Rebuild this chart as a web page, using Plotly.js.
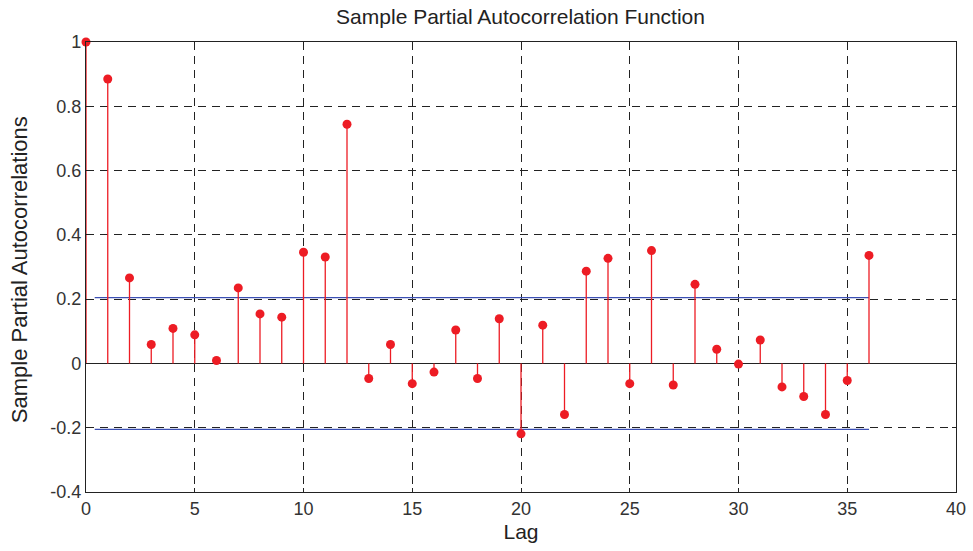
<!DOCTYPE html>
<html>
<head>
<meta charset="utf-8">
<script src="https://cdn.plot.ly/plotly-3.0.1.min.js"></script>
<style>
  html, body { margin: 0; padding: 0; background: #fff; }
  #chart { width: 973px; height: 551px; }
</style>
</head>
<body>
<div id="chart"></div>
<script>
// Sample partial autocorrelations by lag
const lags = [0,1,2,3,4,5,6,7,8,9,10,11,12,13,14,15,16,17,18,19,20,21,22,23,24,25,26,27,28,29,30,31,32,33,34,35,36];
const pacf = [1, 0.885, 0.266, 0.059, 0.109, 0.089, 0.009, 0.235, 0.154, 0.144,
              0.346, 0.331, 0.744, -0.047, 0.059, -0.063, -0.027, 0.104, -0.047, 0.139,
              -0.219, 0.119, -0.159, 0.287, 0.327, -0.063, 0.351, -0.067, 0.246, 0.044,
              -0.002, 0.073, -0.073, -0.103, -0.159, -0.053, 0.336];
// Approximate 95% confidence bounds
const bound = 0.205;
const boundLags = [0.4, 36];

const yTickVals = [-0.4, -0.2, 0, 0.2, 0.4, 0.6, 0.8, 1];
const yTickText = ['-0.4', '-0.2', '0', '0.2', '0.4', '0.6', '0.8', '1'];
const xTickVals = [0, 5, 10, 15, 20, 25, 30, 35, 40];

const red = 'rgb(237,28,36)';
const blue = 'rgb(60,80,180)';

// Stems: vertical segments from zero to each value
const stemX = [], stemY = [];
lags.forEach((l, i) => { stemX.push(l, l, null); stemY.push(0, pacf[i], null); });

const traces = [
  { x: boundLags, y: [bound, bound], mode: 'lines', line: { color: blue, width: 1.3 } },
  { x: boundLags, y: [-bound, -bound], mode: 'lines', line: { color: blue, width: 1.3 } },
  { x: stemX, y: stemY, mode: 'lines', line: { color: red, width: 1.3 }, hoverinfo: 'skip' },
  { x: lags, y: pacf, mode: 'markers', marker: { color: red, size: 9 }, cliponaxis: false }
];

const layout = {
  width: 973, height: 551,
  margin: { l: 86, r: 17, t: 42, b: 59 },
  paper_bgcolor: '#fff', plot_bgcolor: '#fff',
  showlegend: false,
  font: { family: 'Liberation Sans, Arial, sans-serif', color: '#333' },
  title: {
    text: 'Sample Partial Autocorrelation Function',
    font: { size: 21, color: '#222' },
    x: 0.535, xanchor: 'center', y: 0.97, yanchor: 'middle'
  },
  xaxis: {
    range: [0, 40], tickvals: xTickVals,
    showgrid: true, gridcolor: '#222', gridwidth: 1, griddash: '8px,6px',
    zeroline: false,
    showline: true, linecolor: '#222', linewidth: 1.2, mirror: 'ticks',
    ticks: 'inside', ticklen: 4, tickcolor: '#222',
    tickfont: { size: 18, color: '#333' },
    title: { text: 'Lag', font: { size: 21, color: '#222' }, standoff: 6 }
  },
  yaxis: {
    range: [-0.4, 1], tickvals: yTickVals, ticktext: yTickText,
    showgrid: true, gridcolor: '#222', gridwidth: 1, griddash: '8px,6px',
    zeroline: true, zerolinecolor: '#222', zerolinewidth: 1.2,
    showline: true, linecolor: '#222', linewidth: 1.2, mirror: 'ticks',
    ticks: 'inside', ticklen: 4, tickcolor: '#222',
    tickfont: { size: 18, color: '#333' }
  },
  // Vertical axis label placed close to the left edge
  annotations: [{
    text: 'Sample Partial Autocorrelations',
    xref: 'paper', yref: 'paper',
    x: -67 / 870, y: 0.493, xanchor: 'center', yanchor: 'middle',
    textangle: -90, showarrow: false,
    font: { size: 22, color: '#222' }
  }]
};

Plotly.newPlot('chart', traces, layout, { staticPlot: true, displayModeBar: false });
</script>
</body>
</html>
